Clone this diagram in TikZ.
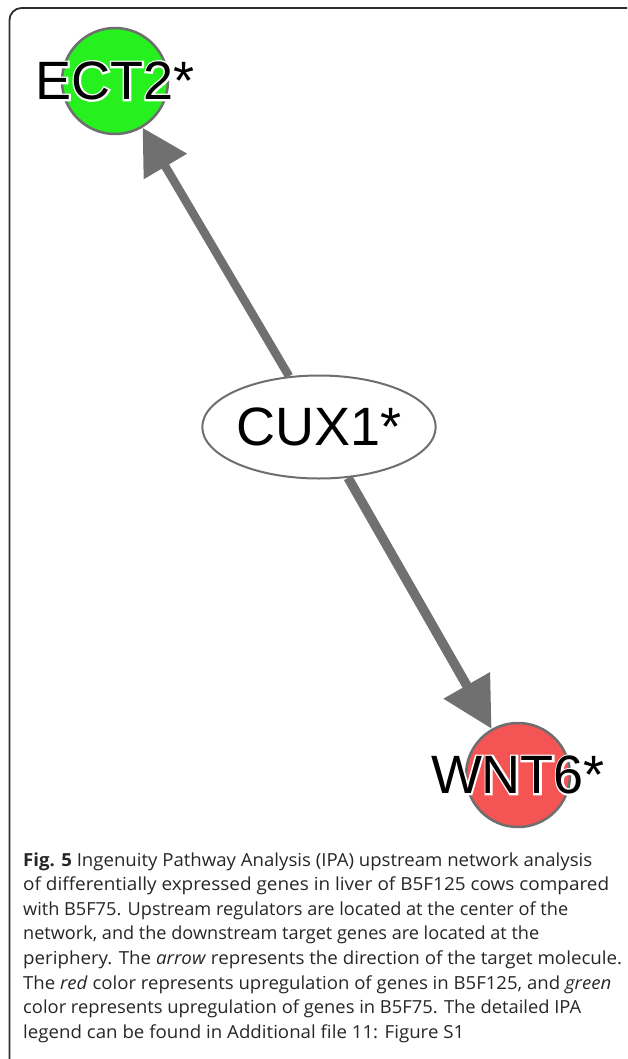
\documentclass[tikz,border=0pt]{standalone}
\usepackage{fontspec}
\usepackage{graphicx}
\setmainfont{Open Sans}
\newfontfamily\genefont{Liberation Sans}
\usetikzlibrary{arrows.meta,shapes.geometric}

\definecolor{edgegray}{RGB}{112,112,112}
\definecolor{rimgray}{RGB}{110,110,110}
\definecolor{upgreen}{RGB}{38,240,30}
\definecolor{upred}{RGB}{244,84,84}
\definecolor{framegray}{RGB}{45,45,45}
\definecolor{captiongray}{RGB}{38,38,38}

% gene symbol with a white outline underneath the black letters
\newcommand{\haloed}[1]{%
  \rlap{\special{pdf:literal direct 1 Tr 3.6 w 1 1 1 RG}#1\special{pdf:literal direct 0 Tr 0 0 0 RG}}#1}

% set one caption line to a given width (in pt) by light horizontal scaling
\newsavebox{\linebox}
\newcommand{\fitline}[2]{%
  \sbox{\linebox}{#2}%
  \pgfmathsetmacro{\linescale}{#1/\wd\linebox}%
  \scalebox{\linescale}[1]{\usebox{\linebox}}}

\tikzset{
  gene/.style={circle, draw=rimgray, line width=2.5pt, minimum size=106pt, inner sep=0pt},
  genelabel/.style={font=\genefont\fontsize{54}{60}\selectfont, inner sep=0pt, anchor=center},
  regulator/.style={ellipse, draw=rimgray, line width=2pt, fill=white,
    minimum width=228pt, minimum height=103pt, inner sep=0pt,
    font=\genefont\fontsize{54}{60}\selectfont},
  relation/.style={draw=edgegray, line width=#1},
  captionline/.style={anchor=base west, inner sep=0pt, text=captiongray,
    font=\fontsize{18}{24}\selectfont},
}

\begin{document}
\begin{tikzpicture}[x=1pt,y=-1pt]
\useasboundingbox (0,0) rectangle (627,1059);

% outer frame, open to the right and bottom
\draw[framegray, line width=1.8pt, rounded corners=12pt]
  (9.5,1059) -- (9.5,8) -- (627,8);

% gene nodes
\node[gene, fill=upgreen] (ect) at (115,81) {};
\node[gene, fill=upred, minimum size=104pt] (wnt) at (518,775) {};
\node[regulator] (cux) at (319,427) {CUX1*};

% regulatory relations
\draw[relation=8.5pt, -{Triangle[length=45pt,width=48pt]}] (cux) -- (ect);
\draw[relation=9.5pt, -{Triangle[length=50pt,width=51pt]}] (cux) -- (wnt);

% gene labels
\node[genelabel] (ectlabel) at (ect) {\haloed{ECT2*}};
\node[genelabel] (wntlabel) at (wnt) {\haloed{WNT6*}};

% caption
\node[captionline] (cap1) at (23,866) {\fitline{569}{\textbf{Fig. 5} Ingenuity Pathway Analysis (IPA) upstream network analysis}};
\node[captionline] (cap2) at (23,890.6) {\fitline{586}{of differentially expressed genes in liver of B5F125 cows compared}};
\node[captionline] (cap3) at (23,915.2) {\fitline{545}{with B5F75. Upstream regulators are located at the center of the}};
\node[captionline] (cap4) at (23,939.8) {\fitline{516}{network, and the downstream target genes are located at the}};
\node[captionline] (cap5) at (23,964.4) {\fitline{599}{periphery. The \textit{arrow} represents the direction of the target molecule.}};
\node[captionline] (cap6) at (23,989) {\fitline{588}{The \textit{red} color represents upregulation of genes in B5F125, and \textit{green}}};
\node[captionline] (cap7) at (23,1013.6) {\fitline{558}{color represents upregulation of genes in B5F75. The detailed IPA}};
\node[captionline] (cap8) at (23,1038.2) {\fitline{441}{legend can be found in Additional file 11: Figure S1}};
\end{tikzpicture}
\end{document}
